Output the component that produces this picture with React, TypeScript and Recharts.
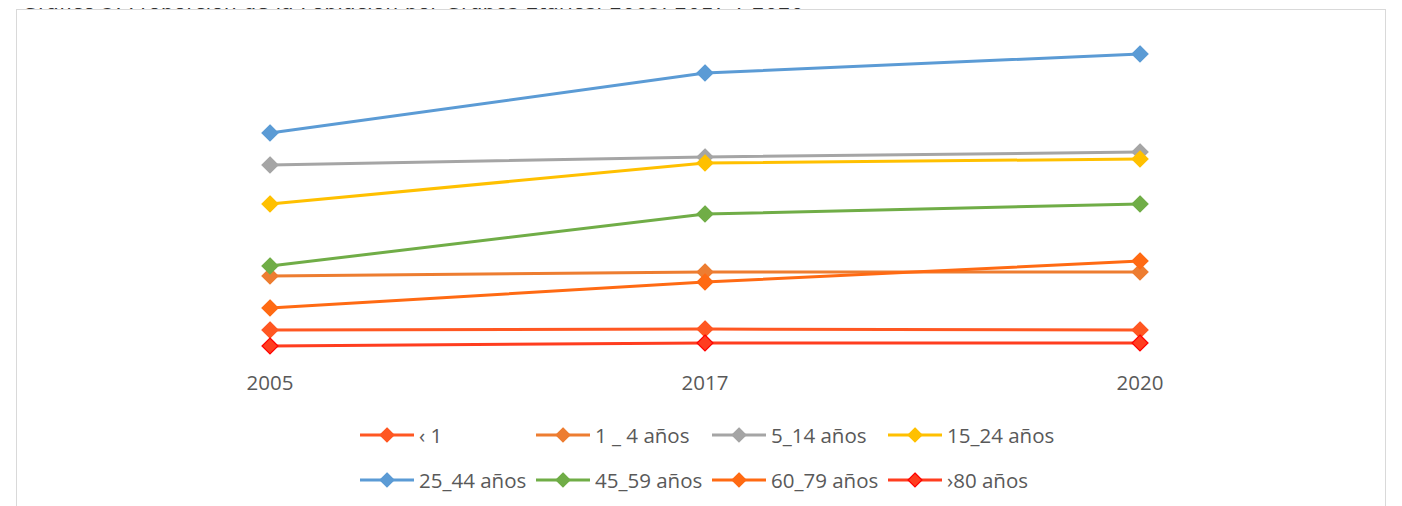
import { LineChart, Line, XAxis, YAxis } from "recharts"

const years = ["2005", "2017", "2020"]

const menos1 = [3.0, 3.1, 3.0]
const de1a4 = [8.4, 8.8, 8.8]
const de5a14 = [19.5, 20.3, 20.8]
const de15a24 = [15.6, 19.7, 20.1]
const de25a44 = [22.7, 28.7, 30.6]
const de45a59 = [9.4, 14.6, 15.6]
const de60a79 = [5.2, 7.8, 9.9]
const mas80 = [1.4, 1.7, 1.7]

const series = [
  { key: "m1", name: "‹ 1", values: menos1, color: "#FF5722", edge: "#FF5722" },
  { key: "a14", name: "1 _ 4 años", values: de1a4, color: "#ED7D31", edge: "#ED7D31" },
  { key: "a514", name: "5_14 años", values: de5a14, color: "#A5A5A5", edge: "#A5A5A5" },
  { key: "a1524", name: "15_24 años", values: de15a24, color: "#FFC000", edge: "#FFC000" },
  { key: "a2544", name: "25_44 años", values: de25a44, color: "#5B9BD5", edge: "#5B9BD5" },
  { key: "a4559", name: "45_59 años", values: de45a59, color: "#70AD47", edge: "#70AD47" },
  { key: "a6079", name: "60_79 años", values: de60a79, color: "#FF6A13", edge: "#FF6A13" },
  { key: "m80", name: "›80 años", values: mas80, color: "#FF3D1F", edge: "#FF0000" },
]

const data = years.map((year, i) => {
  const row: Record<string, string | number> = { year }
  series.forEach((s) => {
    row[s.key] = s.values[i]
  })
  return row
})

const font = "'Open Sans', 'DejaVu Sans', sans-serif"

function diamond(fill: string, edge: string) {
  return (props: any) => {
    const { cx, cy, index } = props
    if (cx == null || cy == null) return <g key={index} />
    const r = 8
    return (
      <path
        key={index}
        d={`M${cx},${cy - r}L${cx + r},${cy}L${cx},${cy + r}L${cx - r},${cy}Z`}
        fill={fill}
        stroke={edge}
        strokeWidth={1.2}
      />
    )
  }
}

function LegendItem({ name, color, edge }: { name: string; color: string; edge: string }) {
  return (
    <div style={{ display: "flex", alignItems: "center", width: 176, height: 26 }}>
      <svg width={54} height={18}>
        <line x1={0} y1={9} x2={54} y2={9} stroke={color} strokeWidth={3} />
        <path d="M27,2L34,9L27,16L20,9Z" fill={color} stroke={edge} strokeWidth={1.2} />
      </svg>
      <span style={{ marginLeft: 5, fontSize: 20.5, color: "#595959", fontFamily: font, whiteSpace: "nowrap" }}>
        {name}
      </span>
    </div>
  )
}

export default function App() {
  return (
    <div style={{ position: "relative", width: 1386, height: 498 }}>
      <div
        style={{
          position: "absolute",
          left: 14,
          top: -18,
          fontFamily: "'DejaVu Sans', sans-serif",
          fontSize: 20.5,
          lineHeight: "24px",
          color: "#303030",
          whiteSpace: "nowrap",
        }}
      >
        Gráfico 5. Proporción de la Población por Grupos Etarios, 2005, 2017 y 2020
      </div>
      <div
        style={{
          position: "absolute",
          left: 8,
          top: 1,
          width: 1368,
          height: 496,
          border: "1px solid #D9D9D9",
          borderBottom: "none",
          background: "#fff",
        }}
      >
        <LineChart width={1368} height={496} data={data} margin={{ top: 20, right: 245, bottom: 116, left: 253 }}>
          <XAxis
            dataKey="year"
            axisLine={false}
            tickLine={false}
            tickSize={0}
            tickMargin={15}
            tick={{ fill: "#595959", fontSize: 20.5, fontFamily: font }}
          />
          <YAxis hide domain={[0, 33]} />
          {series.map((s) => (
            <Line
              key={s.key}
              dataKey={s.key}
              name={s.name}
              stroke={s.color}
              strokeWidth={3}
              dot={diamond(s.color, s.edge)}
              activeDot={false}
              isAnimationActive={false}
            />
          ))}
        </LineChart>
        <div style={{ position: "absolute", left: 343, top: 412, display: "flex", flexWrap: "wrap", width: 720, rowGap: 19 }}>
          {series.map((s) => (
            <LegendItem key={s.key} name={s.name} color={s.color} edge={s.edge} />
          ))}
        </div>
      </div>
    </div>
  )
}
